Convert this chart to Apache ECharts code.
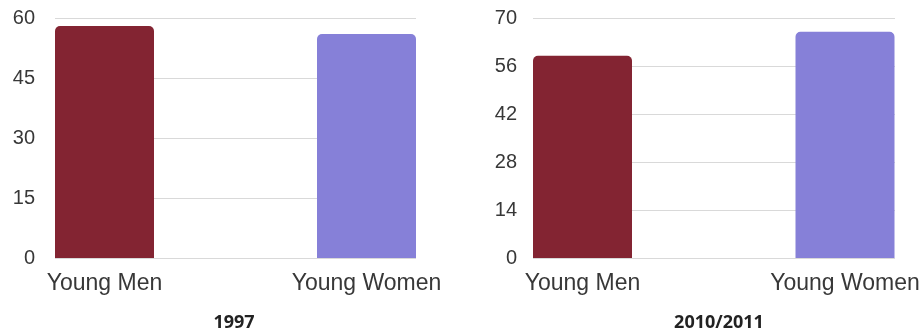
<!DOCTYPE html>
<html>
<head>
<meta charset="utf-8">
<script src="https://cdn.jsdelivr.net/npm/echarts@6/dist/echarts.min.js"></script>
<style>
  html, body { margin: 0; padding: 0; background: #fff; }
  #main { width: 923px; height: 333px; }
</style>
</head>
<body>
<div id="main"></div>
<script>
// data
var categories = ['Young Men', 'Young Women'];
var values1997 = [58, 56];
var values2010 = [59, 66];
var yMax1997 = 60, yStep1997 = 15;
var yMax2010 = 70, yStep2010 = 14;
var titles = ['1997', '2010/2011'];

var barColors = ['#832432', '#8680d8'];
var labelFont = 'Liberation Sans';

// back grid = gridlines + y labels, front grid = bars + x labels
function backAxes(gridIndex, max, step, margin) {
  return {
    x: { type: 'category', gridIndex: gridIndex, data: categories, show: false },
    y: {
      type: 'value', gridIndex: gridIndex, min: 0, max: max, interval: step,
      axisLine: { show: false }, axisTick: { show: false },
      axisLabel: { color: '#383838', fontSize: 20, fontFamily: labelFont, margin: margin },
      splitLine: { lineStyle: { color: '#d9d9d9', width: 1 } }
    }
  };
}
function frontAxes(gridIndex, max) {
  return {
    x: {
      type: 'category', gridIndex: gridIndex, data: categories, boundaryGap: false,
      axisLine: { show: false }, axisTick: { show: false },
      axisLabel: { color: '#383838', fontSize: 23, fontFamily: labelFont, margin: 14 }
    },
    y: { type: 'value', gridIndex: gridIndex, min: 0, max: max, show: false }
  };
}

var b0 = backAxes(0, yMax1997, yStep1997, 20);
var f1 = frontAxes(1, yMax1997);
var b2 = backAxes(2, yMax2010, yStep2010, 16);
var f3 = frontAxes(3, yMax2010);

function barData(vals) {
  return vals.map(function (v, i) {
    return { value: v, itemStyle: { color: barColors[i], borderRadius: [5, 5, 0, 0] } };
  });
}

var option = {
  animation: false,
  grid: [
    { left: 55, top: 18, width: 361, height: 240 },
    { left: 104.5, top: 18, width: 262, height: 240 },
    { left: 533, top: 18, width: 362, height: 240 },
    { left: 582.5, top: 18, width: 262.5, height: 240 }
  ],
  xAxis: [b0.x, f1.x, b2.x, f3.x],
  yAxis: [b0.y, f1.y, b2.y, f3.y],
  series: [
    { type: 'bar', xAxisIndex: 1, yAxisIndex: 1, barWidth: 99, data: barData(values1997) },
    { type: 'bar', xAxisIndex: 3, yAxisIndex: 3, barWidth: 99, data: barData(values2010) }
  ],
  graphic: [
    { type: 'text', x: 234, y: 323, style: { text: titles[0], align: 'center', verticalAlign: 'middle',
      fill: '#222', font: 'bold 18px "Open Sans"' } },
    { type: 'text', x: 719, y: 323, style: { text: titles[1], align: 'center', verticalAlign: 'middle',
      fill: '#222', font: 'bold 18px "Open Sans"' } }
  ]
};

var myChart = echarts.init(document.getElementById('main'));
myChart.setOption(option);
</script>
</body>
</html>
